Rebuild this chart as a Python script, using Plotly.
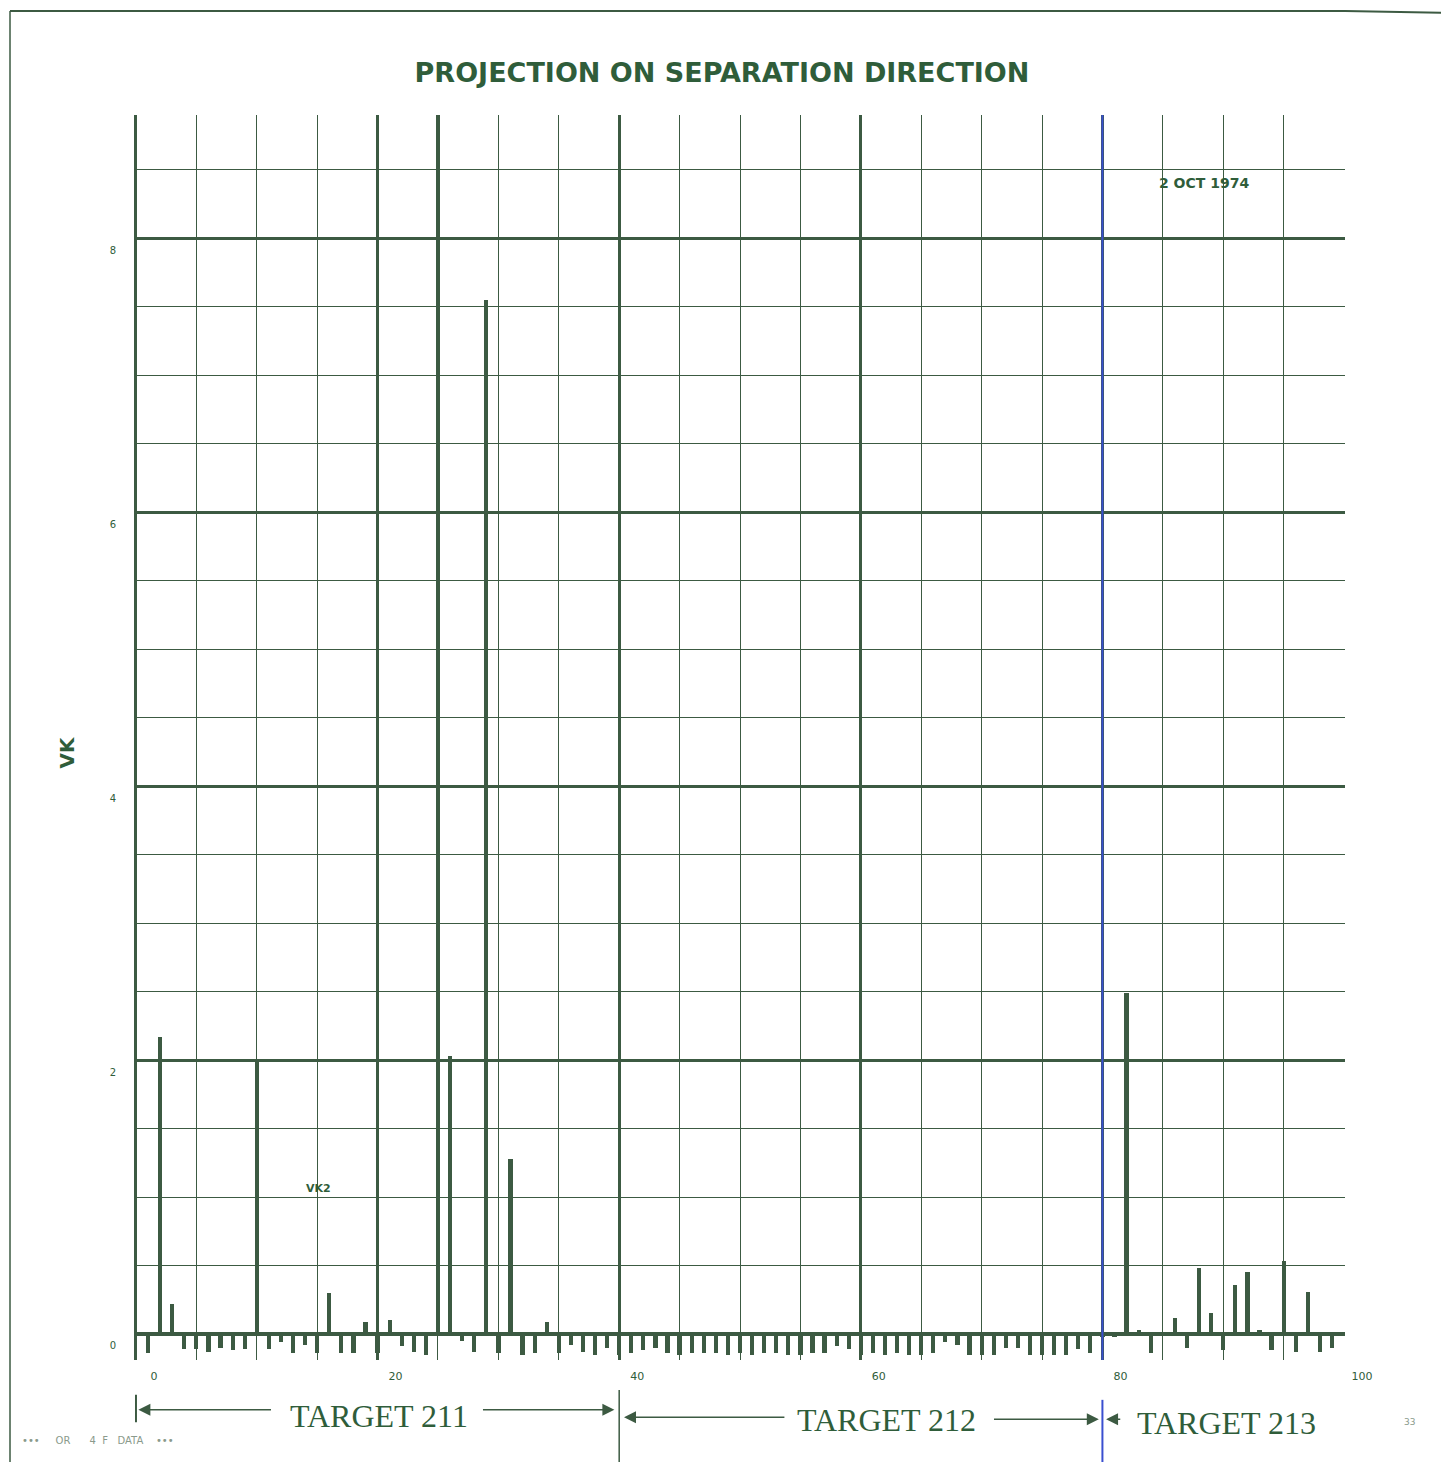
import plotly.graph_objects as go

# ---------------- data ----------------
x_pos = list(range(1, 100))
vk = [
    -0.14, 2.17, 0.22, -0.11, -0.11, -0.13, -0.10, -0.12, -0.11, 1.99,   # 1-10
    -0.11, -0.06, -0.14, -0.08, -0.14, 0.30, -0.14, -0.14, 0.09, -0.14,  # 11-20
    0.10, -0.09, -0.13, -0.15, 9.20, 2.03, -0.05, -0.13, 7.55, -0.14,    # 21-30
    1.28, -0.15, -0.14, 0.09, -0.14, -0.08, -0.13, -0.15, -0.10, -0.15,  # 31-40
    -0.14, -0.12, -0.10, -0.14, -0.15, -0.14, -0.14, -0.14, -0.15, -0.14,  # 41-50
    -0.15, -0.14, -0.14, -0.15, -0.15, -0.14, -0.14, -0.09, -0.11, -0.15,  # 51-60
    -0.14, -0.15, -0.14, -0.15, -0.15, -0.14, -0.06, -0.08, -0.15, -0.15,  # 61-70
    -0.15, -0.10, -0.10, -0.15, -0.15, -0.15, -0.15, -0.11, -0.14, -0.02,  # 71-80
    -0.02, 2.49, 0.03, -0.14, 0.00, 0.12, -0.10, 0.48, 0.15, -0.12,      # 81-90
    0.36, 0.45, 0.03, -0.12, 0.53, -0.13, 0.31, -0.13, -0.10,            # 91-99
]
x_tickvals = [0, 20, 40, 60, 80, 100]
x_ticktext = ["0", "20", "40", "60", "80", "100"]
y_tickvals = [0, 2, 4, 6, 8]
y_ticktext = ["0", "2", "4", "6", "8"]
targets = ["TARGET 211", "TARGET 212", "TARGET 213"]
target_bounds = [0, 40, 80]
title_text = "PROJECTION ON SEPARATION DIRECTION"
date_text = "2 OCT 1974"
series_label = "VK2"
y_title = "VK"

# ---------------- style ----------------
INK = "#3c5a42"
TXT = "#2f5d3a"
BLUE = "#3a4fd0"

fig = go.Figure()
fig.add_trace(go.Bar(
    x=x_pos, y=vk, width=0.35,
    marker=dict(color=INK, line=dict(width=0)),
    showlegend=False, hoverinfo="x+y",
))

fig.update_layout(
    width=1441, height=1454,
    margin=dict(l=127, r=104, t=107, b=102, autoexpand=False),
    paper_bgcolor="white", plot_bgcolor="white",
    bargap=0,
    title=dict(text=title_text, x=(722 - 8) / 1441, xref="container",
               y=1 - (73 - 8) / 1454, yref="container",
               xanchor="center", yanchor="middle",
               font=dict(family="DejaVu Sans", size=27, color=TXT, weight="bold")),
    xaxis=dict(
        range=[-0.08, 100.08], tickmode="array", tickvals=x_tickvals,
        ticktext=x_ticktext, showgrid=True, gridcolor=INK, gridwidth=3,
        zeroline=True, zerolinecolor=INK, zerolinewidth=3,
        ticks="", showline=False,
        ticklabelshift=18, ticklabelstandoff=8,
        tickfont=dict(family="DejaVu Sans", size=11, color=TXT),
        minor=dict(dtick=5, tick0=0, showgrid=True, gridcolor=INK, gridwidth=1),
        fixedrange=True,
    ),
    yaxis=dict(
        range=[-0.19, 8.9], tickmode="array", tickvals=y_tickvals,
        ticktext=y_ticktext, showgrid=True, gridcolor=INK, gridwidth=2.5,
        zeroline=True, zerolinecolor=INK, zerolinewidth=3.5,
        ticks="", showline=False,
        ticklabelshift=12, ticklabelstandoff=18,
        tickfont=dict(family="DejaVu Sans", size=10, color=TXT),
        minor=dict(dtick=0.5, tick0=0, showgrid=True, gridcolor=INK, gridwidth=1),
        fixedrange=True,
    ),
)

shapes = []
# blue boundary line at x = 80, inside plot and below the axis labels
shapes.append(dict(type="line", xref="x", yref="paper", x0=80, x1=80, y0=0, y1=1,
                   line=dict(color=BLUE, width=2), layer="above"))
shapes.append(dict(type="line", xref="x", yref="paper", x0=80, x1=80, y0=-0.032, y1=-0.09,
                   line=dict(color=BLUE, width=2)))
# boundary at 40 below axis
shapes.append(dict(type="line", xref="x", yref="paper", x0=40, x1=40, y0=-0.024, y1=-0.09,
                   line=dict(color=INK, width=1.5)))
# boundary at 0 below axis
shapes.append(dict(type="line", xref="x", yref="paper", x0=0, x1=0, y0=-0.028, y1=-0.05,
                   line=dict(color=INK, width=2)))
# page frame (top and left edges of the scanned sheet)
shapes.append(dict(type="line", xref="paper", yref="paper", x0=-0.1033, x1=1.0, y0=1.0835, y1=1.0835,
                   line=dict(color=INK, width=2)))
shapes.append(dict(type="line", xref="paper", yref="paper", x0=1.0, x1=1.09, y0=1.0835, y1=1.082,
                   line=dict(color=INK, width=2)))
shapes.append(dict(type="line", xref="paper", yref="paper", x0=-0.1033, x1=-0.1033, y0=1.0835, y1=-0.09,
                   line=dict(color=INK, width=1.5)))
fig.update_layout(shapes=shapes)

ann = []
# y axis title
ann.append(dict(text=y_title, xref="paper", yref="paper", x=-0.0562, y=0.488,
                xanchor="center", yanchor="middle",
                showarrow=False, textangle=-90,
                font=dict(family="DejaVu Sans", size=20, color=TXT, weight="bold")))
# date and series label
ann.append(dict(text=date_text, xref="x", yref="y", x=88.4, y=8.40, showarrow=False,
                xanchor="center", yanchor="middle",
                font=dict(family="DejaVu Sans", size=14, color=TXT, weight="bold")))
ann.append(dict(text=series_label, xref="x", yref="y", x=15.1, y=1.06, showarrow=False,
                xanchor="center", yanchor="middle",
                font=dict(family="DejaVu Sans", size=11, color=TXT, weight="bold")))

# target labels
tfont = dict(family="Liberation Serif", size=32, color=TXT)
for txt, tx, ty in zip(targets, [20.1, 62.1, 90.3], [-0.045, -0.048, -0.051]):
    ann.append(dict(text=txt, xref="x", yref="paper", x=tx, y=ty, showarrow=False,
                    xanchor="center", yanchor="middle", font=tfont))

# arrows: (head x, tail x, y paper)
arrows = [
    (target_bounds[0] + 0.2, 11.3, -0.040),
    (target_bounds[1] - 0.4, 28.6, -0.040),
    (target_bounds[1] + 0.4, 53.8, -0.046),
    (target_bounds[2] - 0.3, 70.9, -0.0475),
    (target_bounds[2] + 0.3, 81.6, -0.0475),
]
for hx, tx, yy in arrows:
    ann.append(dict(text="", xref="x", yref="paper", x=hx, y=yy, axref="x", ayref="pixel",
                    ax=tx, ay=0, showarrow=True, arrowhead=2, arrowsize=1.6, arrowwidth=1.5,
                    arrowcolor=INK))

# faint footnotes
ann.append(dict(text="•••     OR      4  F   DATA    •••", xref="paper", yref="paper", x=-0.095, y=-0.065,
                xanchor="left", yanchor="middle", showarrow=False,
                font=dict(family="DejaVu Sans", size=10, color="#8a9a8c")))
ann.append(dict(text="33", xref="paper", yref="paper", x=1.053, y=-0.05, showarrow=False,
                xanchor="center", yanchor="middle",
                font=dict(family="DejaVu Sans", size=9, color="#8a9a8c")))
fig.update_layout(annotations=ann)

fig.write_html("out.html")
